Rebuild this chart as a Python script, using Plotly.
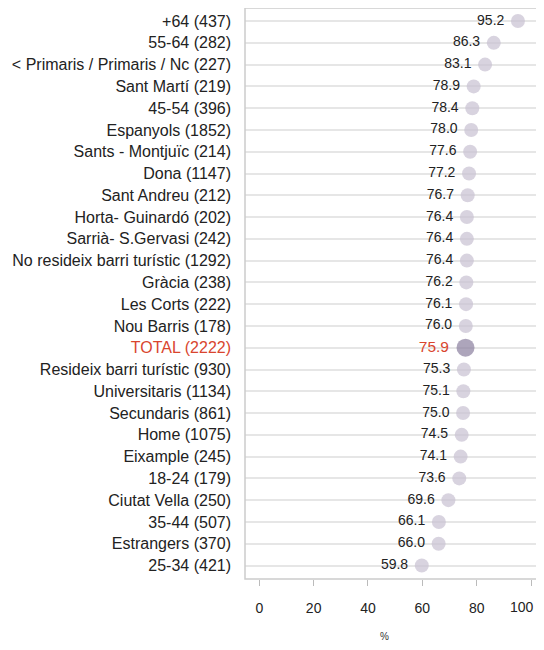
import plotly.graph_objects as go

categories = [
    "+64 (437)", "55-64 (282)", "< Primaris / Primaris / Nc (227)", "Sant Martí (219)",
    "45-54 (396)", "Espanyols (1852)", "Sants - Montjuïc (214)", "Dona (1147)",
    "Sant Andreu (212)", "Horta- Guinardó (202)", "Sarrià- S.Gervasi (242)",
    "No resideix barri turístic (1292)", "Gràcia (238)", "Les Corts (222)",
    "Nou Barris (178)", "TOTAL (2222)", "Resideix barri turístic (930)",
    "Universitaris (1134)", "Secundaris (861)", "Home (1075)", "Eixample (245)",
    "18-24 (179)", "Ciutat Vella (250)", "35-44 (507)", "Estrangers (370)", "25-34 (421)",
]
values = [95.2, 86.3, 83.1, 78.9, 78.4, 78.0, 77.6, 77.2, 76.7, 76.4, 76.4, 76.4, 76.2,
          76.1, 76.0, 75.9, 75.3, 75.1, 75.0, 74.5, 74.1, 73.6, 69.6, 66.1, 66.0, 59.8]
x_ticks = [0, 20, 40, 60, 80, 100]
x_ticktext = ["0", "20", "40", "60", "80", "100"]

TOTAL = "TOTAL (2222)"
red = "#d9452e"
is_total = [c == TOTAL for c in categories]

marker_colors = ["#8a7f9e" if t else "#c8c1d1" for t in is_total]
marker_sizes = [18 if t else 14 for t in is_total]
text_colors = [red if t else "#222222" for t in is_total]
text_sizes = [15.5 if t else 14 for t in is_total]
ticktext = [f"<span style='color:{red}'>{c}</span>" if t else c for c, t in zip(categories, is_total)]

n = len(categories)

fig = go.Figure()
fig.add_trace(go.Scatter(
    x=values, y=categories, mode="markers+text",
    marker=dict(color=marker_colors, size=marker_sizes, line=dict(width=0)),
    text=[f"{v:.1f} " for v in values], textposition="middle left",
    textfont=dict(color=text_colors, size=text_sizes, family="Liberation Sans, Arial"),
    hoverinfo="skip", showlegend=False, cliponaxis=False,
))

fig.update_layout(
    width=528, height=634,
    margin=dict(l=237, r=0, t=0, b=63, autoexpand=False),
    plot_bgcolor="white", paper_bgcolor="white",
    font=dict(family="Liberation Sans, Arial", size=16, color="#222222"),
    xaxis=dict(range=[-5.26, 101.84], tickvals=x_ticks,
               ticktext=x_ticktext[:-1] + [""], showgrid=False, zeroline=False,
               showline=False, ticks="outside", ticklen=6, tickcolor="#bbbbbb",
               tickfont=dict(size=14, color="#222222"), ticklabelstandoff=10,
               ticklabeloverflow="allow", automargin=False),
    yaxis=dict(categoryorder="array", categoryarray=categories, tickvals=categories,
               ticktext=ticktext, range=[n - 1 + 0.62, -0.6], showgrid=True,
               gridcolor="#e6e6e6", gridwidth=2, zeroline=False, ticks="",
               ticklabelstandoff=13, tickfont=dict(size=16, color="#222222"),
               automargin=False),
    shapes=[dict(type="rect", xref="paper", yref="paper", x0=0, x1=1.05, y0=0, y1=1,
                 line=dict(color="#cccccc", width=1.5))],
    annotations=[
        dict(text=x_ticktext[-1], x=x_ticks[-1], xref="x", yref="paper", y=-28 / 571,
             xanchor="right", xshift=5, yanchor="middle", showarrow=False,
             font=dict(size=14, color="#222222")),
        dict(text="%", xref="paper", yref="paper", x=0.48, y=-57 / 571,
             showarrow=False, yanchor="middle", font=dict(size=10, color="#333333")),
    ],
)

fig.write_html("out.html")
